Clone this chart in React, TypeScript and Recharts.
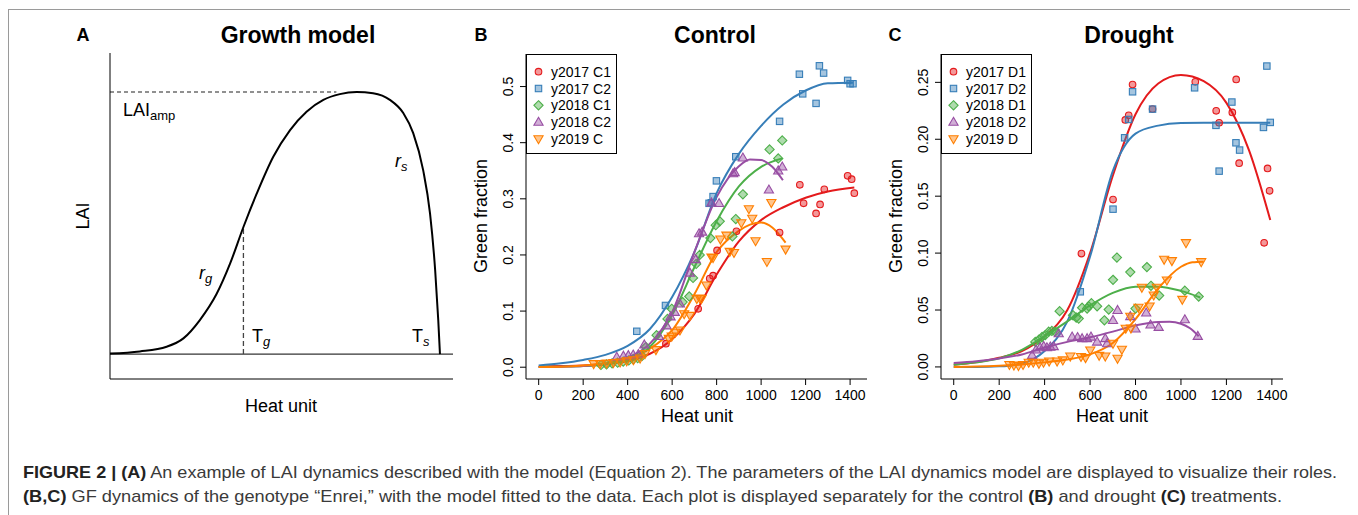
import React from 'react';
import { ComposedChart, LineChart, Line, Scatter, XAxis, YAxis, ReferenceLine, Legend } from 'recharts';

const FONT = '"Liberation Sans", Arial, Helvetica, sans-serif';
const RED = '#E41A1C';
const BLUE = '#377EB8';
const GREEN = '#4DAF4A';
const PURPLE = '#984EA3';
const ORANGE = '#FF7F00';

type Pt = [number, number];

// ---- panel A: conceptual growth model curve
const growthHeat = [0, 8.7, 16.5, 21.4, 26.2, 31.1, 35, 38.9, 42.8, 47.6, 52.5, 57.3, 62.2, 67, 71.9, 76.7, 81.6, 85.5, 88.4, 91.3, 93.3, 94.8, 95.7, 96.2];
const growthLai = [0.002, 0.01, 0.028, 0.06, 0.13, 0.23, 0.345, 0.485, 0.613, 0.753, 0.855, 0.925, 0.97, 0.992, 1.0, 0.995, 0.97, 0.92, 0.843, 0.702, 0.537, 0.32, 0.13, 0.0];
const tgHeat = 38.9;
const tgLai = 0.485;
const ampLai = 1.0;
const ampDashEnd = 66;

// ---- panel B: control
const heatTicks = [0, 200, 400, 600, 800, 1000, 1200, 1400];
const controlTicks = [0, 0.1, 0.2, 0.3, 0.4, 0.5];
const droughtTicks = [0, 0.05, 0.1, 0.15, 0.2, 0.25];

const ctrl17C1: Pt[] = [[572, 0.042], [717, 0.104], [769, 0.158], [784, 0.163], [802, 0.208], [889, 0.242], [1083, 0.24], [1174, 0.325], [1191, 0.292], [1247, 0.274], [1265, 0.29], [1284, 0.317], [1389, 0.341], [1407, 0.335], [1419, 0.31]];
const ctrl17C2: Pt[] = [[441, 0.064], [570, 0.11], [766, 0.292], [776, 0.293], [784, 0.304], [799, 0.332], [886, 0.375], [1083, 0.438], [1172, 0.522], [1187, 0.487], [1247, 0.47], [1262, 0.537], [1281, 0.524], [1389, 0.511], [1400, 0.505], [1413, 0.505]];
const ctrl18C1: Pt[] = [[280, 0.004], [305, 0.005], [330, 0.007], [355, 0.008], [380, 0.01], [405, 0.012], [425, 0.014], [445, 0.016], [465, 0.02], [482, 0.036], [530, 0.057], [579, 0.086], [598, 0.104], [647, 0.116], [677, 0.126], [694, 0.159], [708, 0.184], [724, 0.2], [772, 0.23], [796, 0.253], [814, 0.26], [871, 0.233], [886, 0.264], [918, 0.308], [1038, 0.388], [1077, 0.372], [1095, 0.404]];
const ctrl18C2: Pt[] = [[351, 0.018], [381, 0.02], [403, 0.021], [425, 0.022], [448, 0.023], [475, 0.04], [541, 0.055], [575, 0.074], [593, 0.09], [612, 0.098], [635, 0.113], [680, 0.168], [706, 0.192], [721, 0.238], [735, 0.241], [777, 0.293], [811, 0.292], [874, 0.345], [881, 0.347], [918, 0.373], [1035, 0.316], [1077, 0.35], [1095, 0.357]];
const ctrl19C: Pt[] = [[247, 0.006], [276, 0.006], [306, 0.007], [336, 0.008], [366, 0.009], [396, 0.011], [426, 0.013], [456, 0.016], [478, 0.024], [527, 0.031], [585, 0.051], [598, 0.055], [614, 0.062], [635, 0.066], [654, 0.095], [680, 0.092], [711, 0.122], [724, 0.123], [732, 0.122], [754, 0.146], [777, 0.196], [784, 0.195], [817, 0.228], [844, 0.235], [859, 0.206], [878, 0.204], [911, 0.257], [945, 0.282], [960, 0.265], [975, 0.225], [1026, 0.188], [1046, 0.293], [1110, 0.21]];

// fitted model curves
const ctrlFit17C1: Pt[] = [[0, 0.001], [100, 0.002], [200, 0.003], [300, 0.006], [400, 0.011], [500, 0.024], [600, 0.05], [700, 0.095], [800, 0.165], [900, 0.224], [1000, 0.262], [1100, 0.285], [1200, 0.302], [1300, 0.313], [1419, 0.32]];
const ctrlFit17C2: Pt[] = [[0, 0.003], [100, 0.007], [200, 0.013], [300, 0.022], [400, 0.038], [500, 0.068], [600, 0.125], [700, 0.205], [800, 0.31], [900, 0.38], [1000, 0.43], [1100, 0.468], [1200, 0.493], [1300, 0.506], [1413, 0.507]];
const ctrlFit18C1: Pt[] = [[0, 0.0005], [100, 0.001], [200, 0.002], [300, 0.005], [400, 0.013], [500, 0.036], [600, 0.093], [700, 0.178], [800, 0.26], [900, 0.322], [1000, 0.357], [1095, 0.372]];
const ctrlFit18C2: Pt[] = [[0, 0.0003], [100, 0.001], [200, 0.002], [300, 0.006], [400, 0.017], [500, 0.042], [600, 0.098], [700, 0.205], [800, 0.303], [900, 0.358], [950, 0.37], [1000, 0.369], [1050, 0.357], [1098, 0.333]];
const ctrlFit19C: Pt[] = [[0, 0.0005], [100, 0.001], [200, 0.003], [300, 0.007], [400, 0.015], [500, 0.033], [600, 0.066], [700, 0.13], [800, 0.205], [900, 0.243], [950, 0.254], [1000, 0.258], [1050, 0.249], [1110, 0.222]];

// ---- panel C: drought
const drt17D1: Pt[] = [[562, 0.0996], [701, 0.147], [755, 0.217], [770, 0.221], [787, 0.248], [875, 0.2265], [1063, 0.2505], [1155, 0.225], [1168, 0.2145], [1226, 0.2236], [1243, 0.2526], [1256, 0.179], [1366, 0.109], [1381, 0.1744], [1390, 0.1547]];
const drt17D2: Pt[] = [[557, 0.066], [701, 0.1386], [752, 0.2013], [770, 0.2174], [787, 0.2417], [875, 0.2265], [1060, 0.2452], [1154, 0.2122], [1168, 0.172], [1224, 0.2327], [1242, 0.1969], [1258, 0.1905], [1363, 0.2104], [1378, 0.2643], [1393, 0.2148]];
const drt18D1: Pt[] = [[359, 0.022], [375, 0.024], [389, 0.0264], [403, 0.028], [418, 0.031], [432, 0.0316], [446, 0.031], [466, 0.049], [525, 0.0454], [539, 0.0434], [550, 0.0425], [565, 0.052], [587, 0.0513], [594, 0.0533], [606, 0.056], [631, 0.0533], [663, 0.041], [682, 0.0504], [701, 0.0765], [718, 0.0961], [777, 0.0833], [800, 0.0513], [850, 0.0877], [868, 0.0713], [904, 0.0627], [1017, 0.067], [1078, 0.0618]];
const drt18D2: Pt[] = [[345, 0.0103], [362, 0.015], [380, 0.017], [396, 0.0182], [410, 0.017], [425, 0.0176], [440, 0.018], [462, 0.0293], [521, 0.0264], [545, 0.026], [565, 0.025], [587, 0.025], [604, 0.0264], [631, 0.022], [667, 0.025], [675, 0.0206], [701, 0.041], [721, 0.0498], [777, 0.0444], [800, 0.0335], [847, 0.0475], [866, 0.037], [902, 0.0349], [1017, 0.0416], [1074, 0.027]];
const drt19D: Pt[] = [[245, 0.002], [265, 0.0015], [285, 0.001], [305, 0.002], [330, 0.004], [350, 0.004], [375, 0.003], [395, 0.004], [420, 0.005], [455, 0.005], [480, 0.006], [513, 0.0094], [560, 0.009], [580, 0.008], [601, 0.0147], [640, 0.01], [667, 0.0094], [701, 0.0206], [721, 0.0074], [740, 0.0153], [757, 0.0338], [777, 0.0444], [780, 0.034], [813, 0.0522], [828, 0.0698], [862, 0.0533], [880, 0.063], [894, 0.0698], [926, 0.0944], [938, 0.0762], [960, 0.0932], [1006, 0.0592], [1022, 0.109], [1089, 0.0923]];

const drtFit17D1: Pt[] = [[0, 0.002], [100, 0.004], [200, 0.008], [300, 0.014], [400, 0.027], [500, 0.05], [600, 0.1], [700, 0.168], [800, 0.222], [900, 0.249], [1000, 0.2565], [1100, 0.251], [1200, 0.232], [1300, 0.19], [1393, 0.129]];
const drtFit17D2: Pt[] = [[0, 0.0], [100, 0.0], [200, 0.0005], [300, 0.003], [400, 0.014], [500, 0.04], [600, 0.097], [700, 0.172], [800, 0.205], [900, 0.212], [1000, 0.2143], [1100, 0.2145], [1200, 0.2145], [1300, 0.2145], [1393, 0.2145]];
const drtFit18D1: Pt[] = [[0, 0.002], [100, 0.004], [200, 0.0075], [300, 0.015], [400, 0.027], [500, 0.04], [600, 0.054], [700, 0.065], [800, 0.0705], [900, 0.0705], [1000, 0.0668], [1085, 0.061]];
const drtFit18D2: Pt[] = [[0, 0.0035], [100, 0.005], [200, 0.0075], [300, 0.011], [400, 0.017], [500, 0.022], [600, 0.026], [700, 0.031], [800, 0.0365], [900, 0.0395], [950, 0.0396], [1000, 0.038], [1040, 0.034], [1078, 0.027]];
const drtFit19D: Pt[] = [[0, 0.0], [100, 0.0003], [200, 0.001], [300, 0.0022], [400, 0.004], [500, 0.0065], [600, 0.011], [700, 0.021], [800, 0.042], [900, 0.069], [1000, 0.088], [1050, 0.092], [1100, 0.0925]];

type Kind = 'circle' | 'square' | 'diamond' | 'up' | 'down';
interface Series { name: string; color: string; kind: Kind; points: Pt[]; fit: Pt[] }

const controlSeries: Series[] = [
  { name: 'y2017 C1', color: RED, kind: 'circle', points: ctrl17C1, fit: ctrlFit17C1 },
  { name: 'y2017 C2', color: BLUE, kind: 'square', points: ctrl17C2, fit: ctrlFit17C2 },
  { name: 'y2018 C1', color: GREEN, kind: 'diamond', points: ctrl18C1, fit: ctrlFit18C1 },
  { name: 'y2018 C2', color: PURPLE, kind: 'up', points: ctrl18C2, fit: ctrlFit18C2 },
  { name: 'y2019 C', color: ORANGE, kind: 'down', points: ctrl19C, fit: ctrlFit19C },
];
const droughtSeries: Series[] = [
  { name: 'y2017 D1', color: RED, kind: 'circle', points: drt17D1, fit: drtFit17D1 },
  { name: 'y2017 D2', color: BLUE, kind: 'square', points: drt17D2, fit: drtFit17D2 },
  { name: 'y2018 D1', color: GREEN, kind: 'diamond', points: drt18D1, fit: drtFit18D1 },
  { name: 'y2018 D2', color: PURPLE, kind: 'up', points: drt18D2, fit: drtFit18D2 },
  { name: 'y2019 D', color: ORANGE, kind: 'down', points: drt19D, fit: drtFit19D },
];

const toXY = (pts: Pt[]) => pts.map(([x, y]) => ({ x, y }));

const Marker = ({ cx, cy, kind, color }: { cx?: number; cy?: number; kind: Kind; color: string }) => {
  if (cx == null || cy == null) return null;
  const p = { stroke: color, strokeWidth: 1.1, fill: color, fillOpacity: 0.45 };
  switch (kind) {
    case 'circle':
      return <circle cx={cx} cy={cy} r={3.3} {...p} />;
    case 'square':
      return <rect x={cx - 3.2} y={cy - 3.2} width={6.4} height={6.4} {...p} />;
    case 'diamond':
      return <polygon points={`${cx},${cy - 4.6} ${cx + 4.6},${cy} ${cx},${cy + 4.6} ${cx - 4.6},${cy}`} {...p} />;
    case 'up':
      return <polygon points={`${cx},${cy - 4.8} ${cx + 4.6},${cy + 3.2} ${cx - 4.6},${cy + 3.2}`} {...p} />;
    default:
      return <polygon points={`${cx},${cy + 4.8} ${cx + 4.6},${cy - 3.2} ${cx - 4.6},${cy - 3.2}`} {...p} />;
  }
};

const XTick = ({ x, y, payload }: any) => (
  <text x={x} y={y + 10} dy="0.35em" textAnchor="middle" fontSize={14} fontFamily={FONT} fill="#000">
    {payload.value}
  </text>
);

const makeYTick = (digits: number) => ({ x, y, payload }: any) => (
  <text transform={`translate(${x - 12},${y}) rotate(-90)`} dy="0.35em" textAnchor="middle" fontSize={14} fontFamily={FONT} fill="#000">
    {Number(payload.value).toFixed(digits)}
  </text>
);

const LegendBox = ({ series }: { series: Series[] }) => (
  <div style={{ width: 91, height: 100, border: '1px solid #000', boxSizing: 'border-box', background: '#fff' }}>
    <svg width={89} height={98}>
      {series.map((s, i) => (
        <g key={s.name}>
          <Marker cx={11.5} cy={16.7 + i * 16.8} kind={s.kind} color={s.color} />
          <text x={24} y={16.7 + i * 16.8 + 5} fontSize={14} fontFamily={FONT} fill="#000">{s.name}</text>
        </g>
      ))}
    </svg>
  </div>
);

const GfPanel = ({ series, left, marginRight, xDomain, yDomain, yTicks, digits }: {
  series: Series[]; left: number; marginRight: number; xDomain: [number, number]; yDomain: [number, number]; yTicks: number[]; digits: number;
}) => (
  <div style={{ position: 'absolute', left, top: 32 }}>
    <ComposedChart width={420} height={400} margin={{ top: 14, right: marginRight, bottom: 0, left: 0 }}>
      <XAxis type="number" dataKey="x" domain={xDomain} ticks={heatTicks} interval={0} allowDataOverflow height={61}
        tickSize={6} tickMargin={0} tick={<XTick />} axisLine={{ stroke: '#000' }} tickLine={{ stroke: '#000' }} />
      <YAxis type="number" dataKey="y" domain={yDomain} ticks={yTicks} interval={0} allowDataOverflow width={66}
        tickSize={6} tickMargin={0} tick={makeYTick(digits)} axisLine={{ stroke: '#000' }} tickLine={{ stroke: '#000' }} />
      <XAxis xAxisId="top" orientation="top" type="number" domain={xDomain} height={0} tick={false} tickLine={false} axisLine={{ stroke: '#000' }} />
      <YAxis yAxisId="right" orientation="right" type="number" domain={yDomain} width={0} tick={false} tickLine={false} axisLine={{ stroke: '#000' }} />
      {series.map((s) => (
        <Scatter key={s.name + '-pts'} name={s.name} data={toXY(s.points)} isAnimationActive={false}
          shape={(p: any) => <Marker cx={p.cx} cy={p.cy} kind={s.kind} color={s.color} />} />
      ))}
      {series.map((s) => (
        <Line key={s.name + '-fit'} data={toXY(s.fit)} dataKey="y" type="monotone" stroke={s.color} strokeWidth={2}
          dot={false} activeDot={false} legendType="none" isAnimationActive={false} />
      ))}
      <Legend layout="vertical" align="center" verticalAlign="middle" wrapperStyle={{ left: 66, top: 14, width: 91, height: 100 }}
        content={() => <LegendBox series={series} />} />
    </ComposedChart>
  </div>
);

const growthData = growthHeat.map((x, i) => ({ x, y: growthLai[i] }));

const GrowthPanel = () => (
  <div style={{ position: 'absolute', left: 52, top: 32 }}>
    <LineChart width={400} height={360} data={growthData} margin={{ top: 13, right: 7, bottom: 0, left: 0 }}>
      <XAxis type="number" dataKey="x" domain={[0, 100]} allowDataOverflow height={21} tick={false} tickLine={false} axisLine={{ stroke: '#000' }} />
      <YAxis type="number" domain={[-0.095, 1.149]} allowDataOverflow width={50} tick={false} tickLine={false} axisLine={{ stroke: '#000' }} />
      <XAxis xAxisId="top" orientation="top" type="number" domain={[0, 100]} height={0} tick={false} tickLine={false} axisLine={{ stroke: '#000' }} />
      <YAxis yAxisId="right" orientation="right" type="number" domain={[-0.095, 1.149]} width={0} tick={false} tickLine={false} axisLine={{ stroke: '#000' }} />
      <ReferenceLine y={0} stroke="#000" strokeWidth={1} />
      <ReferenceLine segment={[{ x: tgHeat, y: 0 }, { x: tgHeat, y: tgLai }]} stroke="#444" strokeWidth={1.3} strokeDasharray="5 3" />
      <ReferenceLine segment={[{ x: 0, y: ampLai }, { x: ampDashEnd, y: ampLai }]} stroke="#222" strokeWidth={1.1} strokeDasharray="4 3" />
      <Line dataKey="y" type="monotone" stroke="#000" strokeWidth={2} dot={false} activeDot={false} isAnimationActive={false} />
    </LineChart>
  </div>
);

export default function App() {
  return (
    <div style={{ position: 'relative', width: 1350, height: 507, overflow: 'hidden', fontFamily: FONT }}>
      <style>{'body{overflow:hidden}'}</style>
      <div style={{ position: 'absolute', left: 0, top: 1, width: 1348, height: 540, border: '1px solid #9a9a9a', boxSizing: 'border-box' }} />
      <GrowthPanel />
      <GfPanel series={controlSeries} left={452} marginRight={13} xDomain={[-57, 1476]} yDomain={[-0.021, 0.558]} yTicks={controlTicks} digits={1} />
      <GfPanel series={droughtSeries} left={867} marginRight={12} xDomain={[-56, 1449]} yDomain={[-0.0106, 0.2749]} yTicks={droughtTicks} digits={2} />
      <svg width={1350} height={507} style={{ position: 'absolute', left: 0, top: 0, pointerEvents: 'none' }} fontFamily={FONT}>
        <g transform="translate(-8,-8)">
          {/* panel letters and titles */}
          <text x={83} y={41} fontSize={18} fontWeight="bold" textAnchor="middle">A</text>
          <text x={481} y={41} fontSize={18} fontWeight="bold" textAnchor="middle">B</text>
          <text x={895} y={41} fontSize={18} fontWeight="bold" textAnchor="middle">C</text>
          <text x={298} y={43} fontSize={23} fontWeight="bold" textAnchor="middle">Growth model</text>
          <text x={715} y={43} fontSize={23} fontWeight="bold" textAnchor="middle">Control</text>
          <text x={1129} y={43} fontSize={23} fontWeight="bold" textAnchor="middle">Drought</text>
          {/* axis titles */}
          <text transform="translate(83,216) rotate(-90)" dy="0.35em" fontSize={18} textAnchor="middle">LAI</text>
          <text x={281} y={412} fontSize={18} textAnchor="middle">Heat unit</text>
          <text transform="translate(481,216) rotate(-90)" dy="0.35em" fontSize={18} textAnchor="middle">Green fraction</text>
          <text x={697} y={422} fontSize={18} textAnchor="middle">Heat unit</text>
          <text transform="translate(896,216) rotate(-90)" dy="0.35em" fontSize={18} textAnchor="middle">Green fraction</text>
          <text x={1112} y={422} fontSize={18} textAnchor="middle">Heat unit</text>
          {/* growth model parameters */}
          <text x={123} y={116} fontSize={18}>LAI<tspan fontSize={13} dy={4}>amp</tspan></text>
          <text x={199} y={279} fontSize={18} fontStyle="italic">r<tspan fontSize={13} dy={4}>g</tspan></text>
          <text x={395} y={167} fontSize={18} fontStyle="italic">r<tspan fontSize={13} dy={4}>s</tspan></text>
          <text x={252} y={342} fontSize={18}>T<tspan fontSize={13} dy={4} fontStyle="italic">g</tspan></text>
          <text x={412} y={342} fontSize={18}>T<tspan fontSize={13} dy={4} fontStyle="italic">s</tspan></text>
          {/* caption */}
          <text x={23} y={478} fontSize={17} fill="#3a3a3a" textLength={1314} lengthAdjust="spacingAndGlyphs">
            <tspan fontWeight="bold" fill="#222">FIGURE 2 | (A)</tspan>
            {' An example of LAI dynamics described with the model (Equation 2). The parameters of the LAI dynamics model are displayed to visualize their roles.'}
          </text>
          <text x={23} y={502} fontSize={17} fill="#3a3a3a" textLength={1259} lengthAdjust="spacingAndGlyphs">
            <tspan fontWeight="bold" fill="#222">(B,C)</tspan>
            {' GF dynamics of the genotype \u201cEnrei,\u201d with the model fitted to the data. Each plot is displayed separately for the control '}
            <tspan fontWeight="bold" fill="#222">(B)</tspan>
            {' and drought '}
            <tspan fontWeight="bold" fill="#222">(C)</tspan>
            {' treatments.'}
          </text>
        </g>
      </svg>
    </div>
  );
}
